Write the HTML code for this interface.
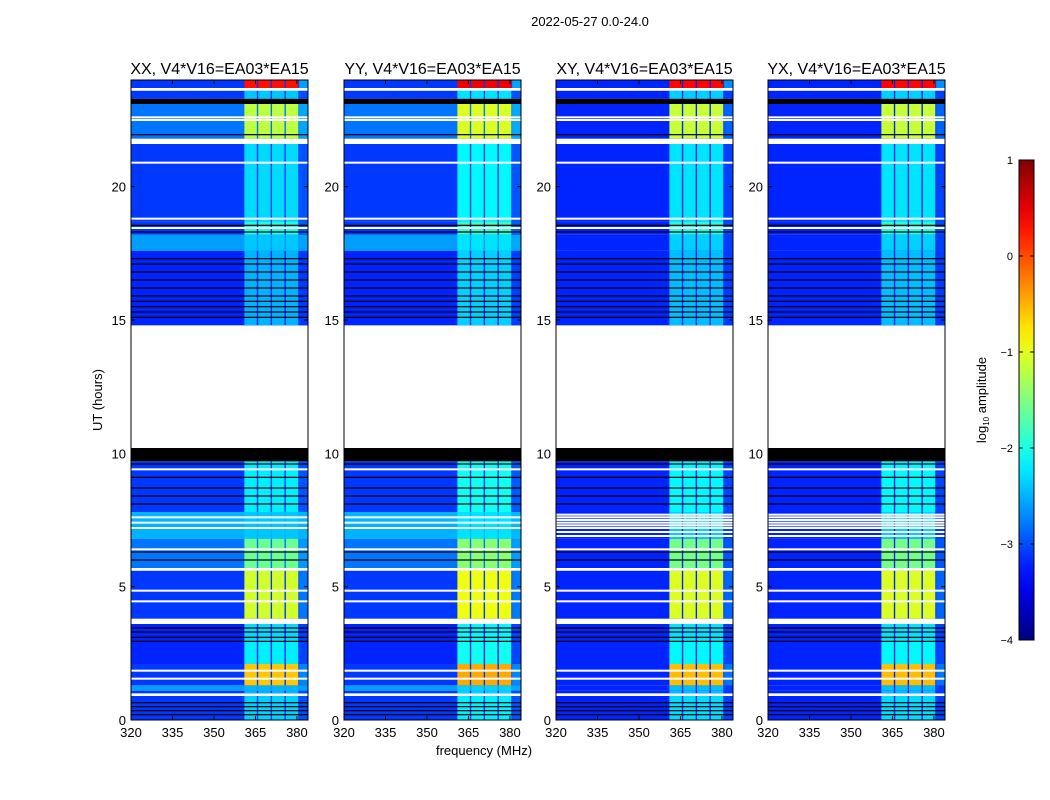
<!DOCTYPE html>
<html><head><meta charset="utf-8"><style>
html,body{margin:0;padding:0;background:#fff}
svg{display:block;font-family:"Liberation Sans",sans-serif}
</style></head><body>
<svg id="fig" width="1050" height="800" viewBox="0 0 1050 800">
<text x="590" y="26" font-size="13" text-anchor="middle">2022-05-27 0.0-24.0</text>
<text x="102" y="400" font-size="13" text-anchor="middle" transform="rotate(-90 102 400)">UT (hours)</text>
<text x="484" y="755" font-size="13" text-anchor="middle">frequency (MHz)</text>
<g id="panels"></g>
<g id="cbar"></g>
<text x="986" y="400" font-size="13" text-anchor="middle" transform="rotate(-90 986 400)">log<tspan font-size="8" dy="3">10</tspan><tspan dy="-3"> amplitude</tspan></text>
</svg>
<script>
// ---- data ----
const panelTitles = ["XX, V4*V16=EA03*EA15","YY, V4*V16=EA03*EA15","XY, V4*V16=EA03*EA15","YX, V4*V16=EA03*EA15"];
const panelCross = [false,false,true,true];
const panelBandOffset = [0, 0.15, 0.05, 0.05];
// time segments
const segStart = [0,   0.9, 1.0, 1.1, 1.3, 2.1, 3.0, 3.6, 3.8, 5.6, 5.7, 6.8, 7.8, 9.7, 10.2, 14.8, 17.6, 18.2, 18.7, 21.6, 21.8, 23.1, 23.3, 23.6, 23.7];
const segEnd   = [0.9, 1.0, 1.1, 1.3, 2.1, 3.0, 3.6, 3.8, 5.6, 5.7, 6.8, 7.8, 9.7, 10.2,14.8, 17.6, 18.2, 18.7, 21.6, 21.8, 23.1, 23.3, 23.6, 23.7, 24];
const segBaseP = [-3.1,'W',-3.1,-2.6,-3.1,-3.2,-3.2,'W',-3.1,'W',-2.8,-2.5,-3.1,'K','W',-3.2,-2.6,-3.1,-3.1,'W',-2.8,'K',-3.1,'W',-3.1];
const segBaseC = [-3.2,'W',-3.2,-3.2,-3.2,-3.2,-3.2,'W',-3.2,'W',-3.2,-3.2,-3.2,'K','W',-3.2,-3.2,-3.2,-3.2,'W',-3.2,'K',-3.2,'W',-3.2];
const segBand  = [-2.35,0,-2.5,-2.5,-0.6,-2.2,-2.3,0,-1.1,0,-1.6,-2.4,-2.2,0,0,-2.5,-2.4,-2.0,-2.3,0,-1.2,0,-2.4,0,0.3];
const whiteLines = [1.55,1.85,4.45,4.85,6.4,7.2,7.4,7.6,9.4,20.9,22.5,22.6,18.45,18.8];
const crossWhiteLines = [6.9,7.05,7.3,7.5,7.7];
const blackLines = [0.2,0.35,0.5,0.65,2.95,3.1,3.3,3.45,6.0,6.3,8.1,8.4,8.7,9.1,9.6,15.1,15.3,15.5,15.7,15.9,16.2,16.5,16.8,17.1,17.3,18.3,18.55,21.95,23.2];
const blockStart = [361, 366, 371, 376, 380.8];
const blockEnd   = [365.5, 370.5, 375.5, 380.5, 384];
const blockGain  = [1.0, 1.0, 1.0, 1.0, 0.15];
const xTicks = [320,335,350,365,380];
const yTicks = [0,5,10,15,20];
const cbTicks = [1,0,-1,-2,-3,-4];
// ---- helpers ----
const panelLeft = [131,344,556,768], panelW = 177, plotTop = 80, plotBottom = 720;
const fmin = 320, fmax = 384, hmin = 0, hmax = 24, vmin = -4, vmax = 1;
const yH = h => plotBottom - (h - hmin) / (hmax - hmin) * (plotBottom - plotTop);
function jet(v){
  const t = Math.max(0, Math.min(1, (v - vmin) / (vmax - vmin)));
  const c = x => Math.round(255 * Math.max(0, Math.min(1, 1.5 - Math.abs(4*t - x))));
  return `rgb(${c(3)},${c(2)},${c(1)})`;
}
const NS = "http://www.w3.org/2000/svg";
function el(tag, attrs, parent){ const e = document.createElementNS(NS, tag); for (const k in attrs) e.setAttribute(k, attrs[k]); parent.appendChild(e); return e; }
const panels = document.getElementById('panels');
panelLeft.forEach((L, p) => {
  const xF = f => L + (f - fmin) / (fmax - fmin) * panelW;
  const g = el('g', {}, panels);
  
  
  const base = panelCross[p] ? segBaseC : segBaseP;
  segStart.forEach((s, i) => {
    const y0 = yH(segEnd[i]), y1 = yH(s), b = base[i];
    const fill = b === 'W' ? '#fff' : b === 'K' ? '#000' : jet(b);
    const r = el('rect', {x: L, y: y0, width: panelW, height: y1 - y0, fill}, g);
    
    
    if (typeof b === 'number') {
      blockStart.forEach((bs, j) => {
        const lvl = b + (segBand[i] + panelBandOffset[p] - b) * blockGain[j];
        const br = el('rect', {x: xF(bs), y: y0, width: xF(blockEnd[j]) - xF(bs), height: y1 - y0, fill: jet(lvl)}, g);
        
        
      });
    }
  });
  const wl = panelCross[p] ? whiteLines.concat(crossWhiteLines) : whiteLines;
  wl.forEach(h => { const r = el('rect', {x: L, y: yH(h) - 1, width: panelW, height: 2, fill: '#fff'}, g);
    
     });
  blackLines.forEach(h => { const r = el('rect', {x: L, y: yH(h) - 0.6, width: panelW, height: 1.2, fill: '#000'}, g);
    
     });
  const fr = el('rect', {x: L, y: plotTop, width: panelW, height: plotBottom - plotTop, fill: 'none', stroke: '#000', 'stroke-width': 1}, g);
  
  
  const t = el('text', {x: L + panelW/2, y: 74, 'font-size': 16, 'text-anchor': 'middle'}, g);
  t.textContent = panelTitles[p];
  
  
  xTicks.forEach(f => {
    const x = xF(f);
    el('line', {x1: x, x2: x, y1: plotBottom, y2: plotBottom - 4, stroke: '#000'}, g);
    el('line', {x1: x, x2: x, y1: plotTop, y2: plotTop + 4, stroke: '#000'}, g);
    const tx = el('text', {x, y: 737, 'font-size': 13, 'text-anchor': 'middle'}, g);
    tx.textContent = f;
    
    
  });
  yTicks.forEach(h => {
    const y = yH(h);
    el('line', {x1: L, x2: L + 4, y1: y, y2: y, stroke: '#000'}, g);
    el('line', {x1: L + panelW, x2: L + panelW - 4, y1: y, y2: y, stroke: '#000'}, g);
    const ty = el('text', {x: L - 5, y: y + 5, 'font-size': 13, 'text-anchor': 'end'}, g);
    ty.textContent = h;
    
    
  });
});
// colorbar
const cb = document.getElementById('cbar');
const cbX = 1019, cbW = 15, cbT = 160, cbB = 640;
const defs = el('defs', {}, cb);
const grad = el('linearGradient', {id: 'jetg', x1: 0, y1: 1, x2: 0, y2: 0}, defs);
for (let i = 0; i <= 20; i++) el('stop', {offset: i/20, 'stop-color': jet(vmin + (vmax - vmin) * i/20)}, grad);
el('rect', {x: cbX, y: cbT, width: cbW, height: cbB - cbT, fill: 'url(#jetg)', stroke: '#000', 'stroke-width': 1}, cb);
cbTicks.forEach(v => {
  const y = cbB - (v - vmin) / (vmax - vmin) * (cbB - cbT);
  el('line', {x1: cbX, x2: cbX + 4, y1: y, y2: y, stroke: '#000'}, cb);
  el('line', {x1: cbX + cbW, x2: cbX + cbW - 4, y1: y, y2: y, stroke: '#000'}, cb);
  const t = el('text', {x: 1013, y: y + 4, 'font-size': 11, 'text-anchor': 'end'}, cb);
  t.textContent = v < 0 ? '\u2212' + (-v) : v;
  
  
});
</script>
</body></html>
